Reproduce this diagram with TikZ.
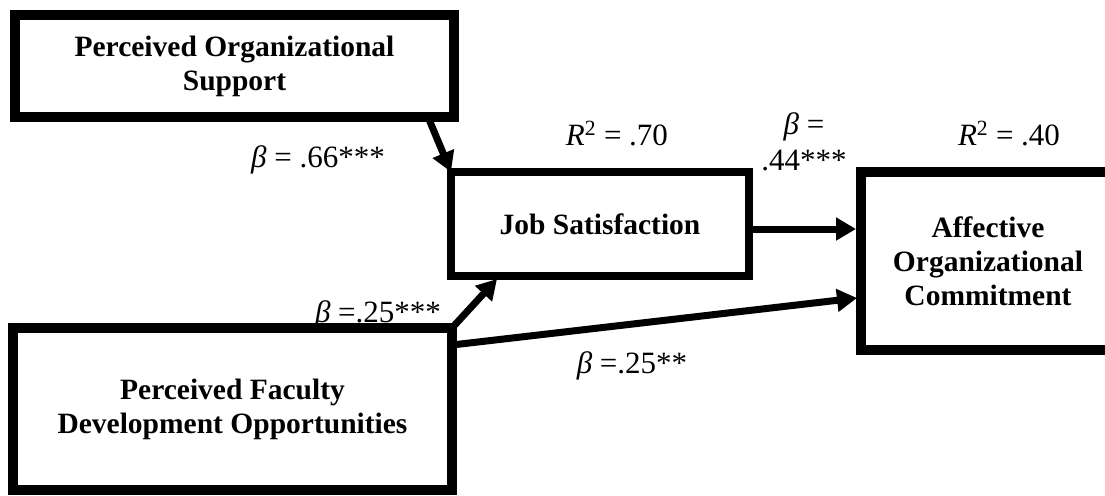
\documentclass[tikz,border=0pt]{standalone}
\usepackage{fontspec}
\setmainfont{Liberation Serif}
\usetikzlibrary{arrows.meta}
\begin{document}
\begin{tikzpicture}[x=1pt,y=-1pt,
  box/.style={draw, rectangle, line width=10pt, inner sep=0pt, outer sep=0pt, align=center,
    font=\fontsize{29.5}{34}\selectfont\bfseries},
  arr/.style={line width=7pt, -{Triangle[length=20pt,width=22pt]}},
  lab/.style={font=\fontsize{31}{36}\selectfont, inner sep=0pt, anchor=base}]
\clip (0,0) rectangle (1105,495);
\node[box, minimum width=439pt, minimum height=102pt] (pos) at (234.5,66) {Perceived Organizational\\Support};
\node[box, line width=8pt, minimum width=298pt, minimum height=104pt] (js) at (600,224) {Job Satisfaction};
\node[box, minimum width=254pt, minimum height=178pt] (aoc) at (988,261) {Affective\\Organizational\\Commitment};
\node[box, minimum width=439pt, minimum height=162pt] (pfdo) at (232.5,409) {Perceived Faculty\\Development Opportunities};
\draw[arr] ([xshift=-26pt]pos.south east) -- (js.north west);
\draw[arr] (pfdo.north east) -- ([xshift=-103pt,yshift=-3pt]js.south);
\draw[arr] ([yshift=-5pt]js.east) -- ([xshift=-5pt,yshift=-5pt]js.east -| aoc.west);
\draw[arr] ([yshift=-17pt]pfdo.north east) -- ([xshift=-4pt,yshift=-37pt]aoc.west);
\node[lab] (l1) at (318,167) {{\itshape β} = .66***};
\node[lab] (l2) at (617,145) {{\itshape R}\textsuperscript{2} = .70};
\node[lab] (l3a) at (804,134) {{\itshape β} =};
\node[lab] (l3b) at (804,170) {.44***};
\node[lab] (l4) at (1009,145) {{\itshape R}\textsuperscript{2} = .40};
\node[lab] (l5) at (378,322) {{\itshape β} =.25***};
\node[lab] (l6) at (632,373) {{\itshape β} =.25**};
\end{tikzpicture}
\end{document}
